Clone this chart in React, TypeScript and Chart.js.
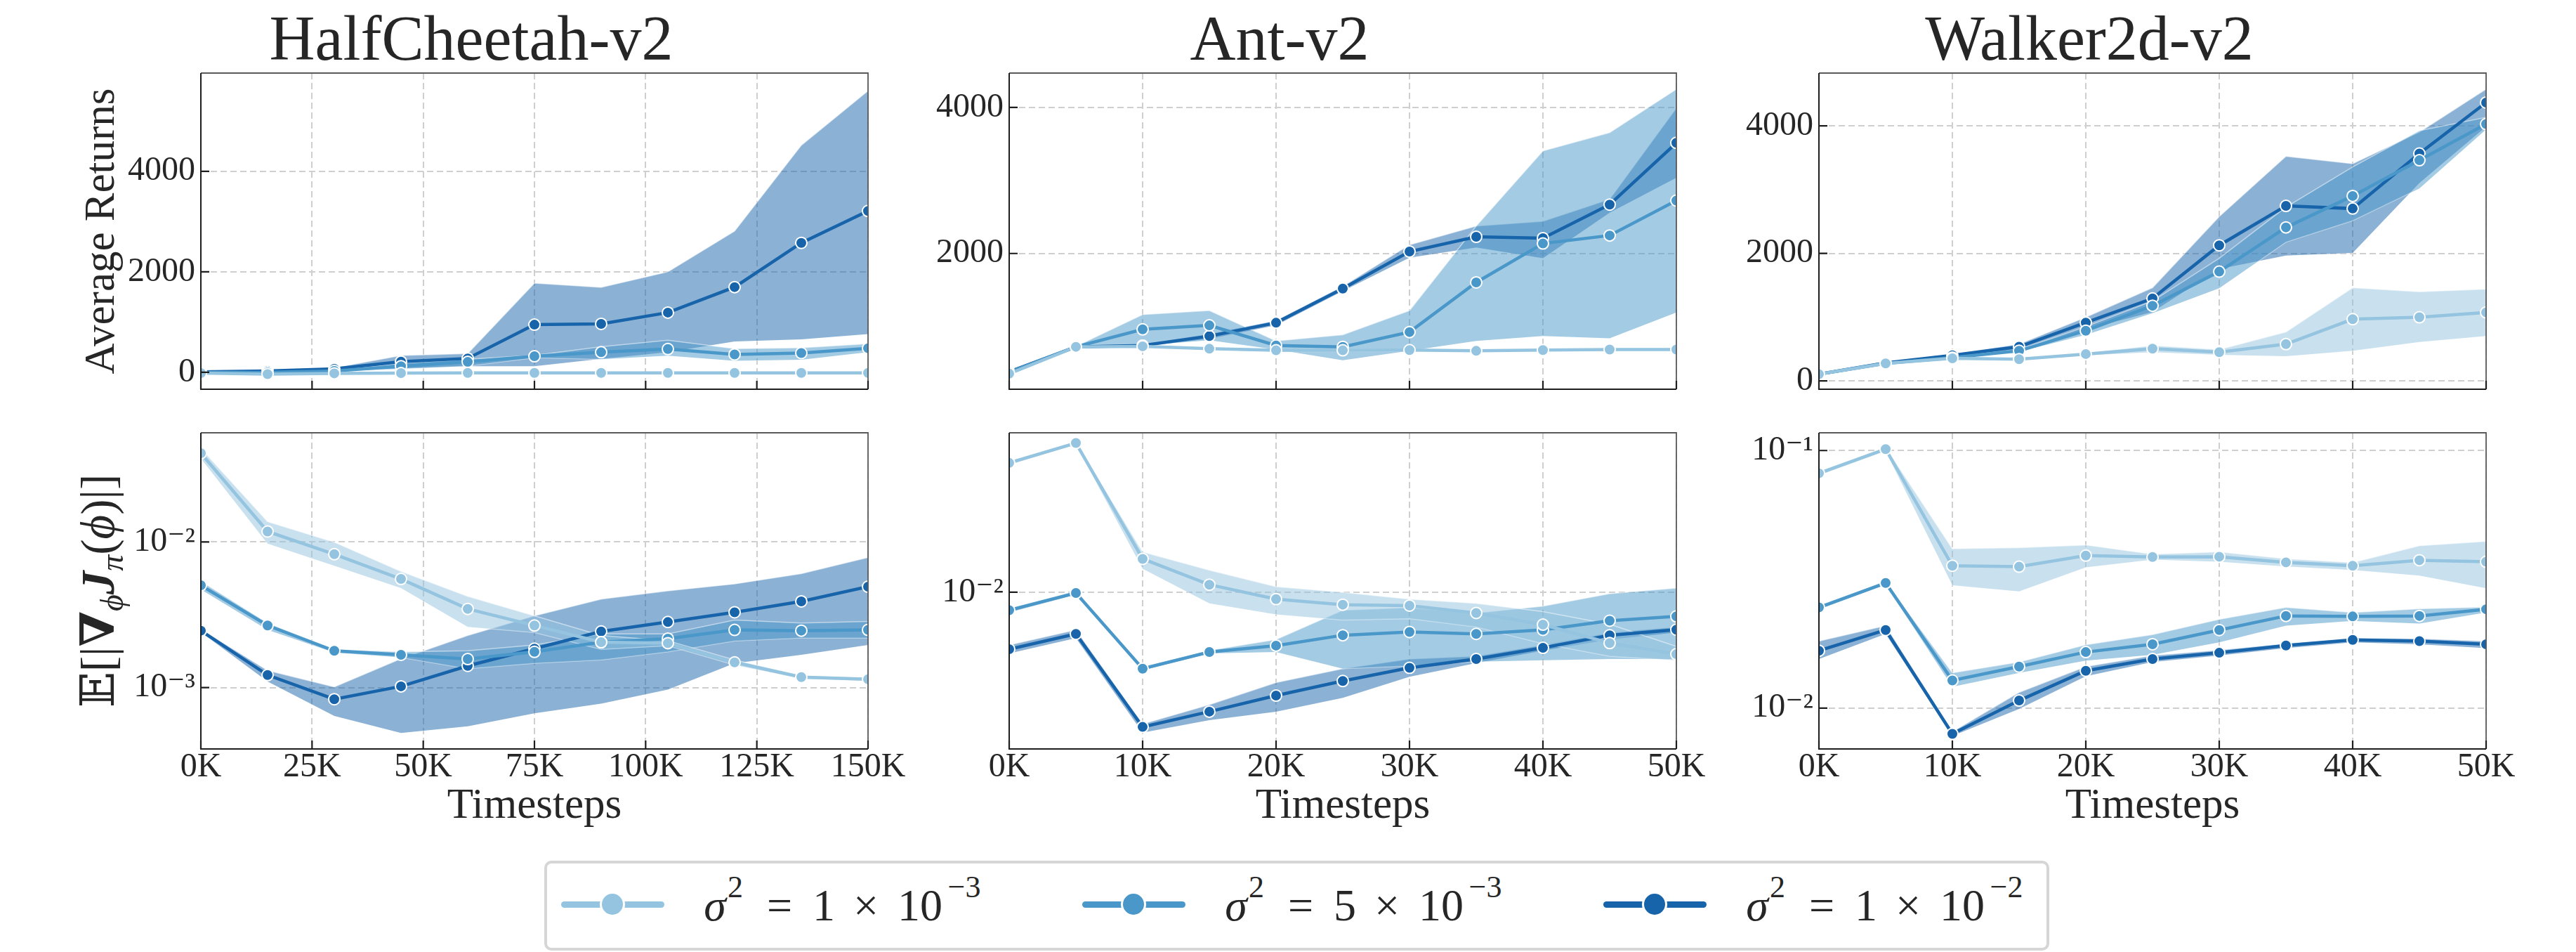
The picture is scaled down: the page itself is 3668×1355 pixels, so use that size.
import React, { useEffect, useRef } from 'react';
import { Chart, registerables } from 'chart.js';

Chart.register(...registerables);

const SERIF = '"Liberation Serif", "DejaVu Serif", serif';
const TEXT = '#262626';
const GRID = '#cfcfcf';
const COLORS = ['#94c4df', '#4a98c9', '#1764ab'];
const BANDS = ['rgba(148,196,223,0.5)', 'rgba(74,152,201,0.5)', 'rgba(23,100,171,0.5)'];
const BAND_EDGE = 'rgba(255,255,255,0.5)';

// ---------------- labels ----------------
const envTitles = ['HalfCheetah-v2', 'Ant-v2', 'Walker2d-v2'];
const yTitleTop = 'Average Returns';
const xTitle = 'Timesteps';
const legendMantissa = ['1', '5', '1'];
const legendExponent = ['\u22123', '\u22123', '\u22122'];

// ---------------- x values / ticks ----------------
const hcSteps = [0, 15000, 30000, 45000, 60000, 75000, 90000, 105000, 120000, 135000, 150000];
const mjSteps = [0, 5000, 10000, 15000, 20000, 25000, 30000, 35000, 40000, 45000, 50000];
const hcXTicks = [0, 25000, 50000, 75000, 100000, 125000, 150000];
const mjXTicks = [0, 10000, 20000, 30000, 40000, 50000];

// ---------------- HalfCheetah: returns ----------------
const hcRetLight = [-15, -35, -20, -15, -10, -10, -10, -10, -10, -10, -10];
const hcRetLightHi = [-5, -25, -10, -5, 0, 0, 0, 0, 0, 0, 0];
const hcRetLightLo = [-25, -45, -30, -25, -20, -20, -20, -20, -20, -20, -20];
const hcRetMed = [0, 0, 27, 123, 208, 320, 400, 464, 357, 384, 480];
const hcRetMedHi = [5, 5, 35, 180, 260, 340, 510, 640, 470, 490, 570];
const hcRetMedLo = [-5, -5, 20, 70, 125, 290, 260, 330, 230, 250, 400];
const hcRetDark = [10, 27, 70, 213, 277, 949, 965, 1189, 1696, 2576, 3211];
const hcRetDarkHi = [15, 35, 90, 336, 373, 1776, 1691, 2000, 2811, 4517, 5600];
const hcRetDarkLo = [5, 15, 50, 80, 123, 123, 267, 400, 613, 656, 763];

// ---------------- HalfCheetah: gradient norm ----------------
const hcGradLight = [0.0407, 0.0118, 0.00824, 0.00557, 0.00347, 0.00267, 0.00205, 0.00202, 0.00149, 0.00118, 0.00114];
const hcGradLightHi = [0.044, 0.0138, 0.00997, 0.00628, 0.00423, 0.00311, 0.00228, 0.0021, 0.00155, 0.00121, 0.00117];
const hcGradLightLo = [0.0375, 0.00974, 0.00686, 0.00482, 0.00261, 0.00239, 0.00183, 0.00194, 0.00143, 0.00115, 0.00111];
const hcGradMed = [0.00504, 0.00267, 0.00179, 0.00168, 0.00157, 0.00176, 0.00205, 0.00217, 0.00249, 0.00246, 0.00249];
const hcGradMedHi = [0.00538, 0.00278, 0.00183, 0.00176, 0.00179, 0.00196, 0.00234, 0.00234, 0.00291, 0.00278, 0.00285];
const hcGradMedLo = [0.00472, 0.00249, 0.00174, 0.00161, 0.00135, 0.00147, 0.00155, 0.00176, 0.00209, 0.00219, 0.00219];
const hcGradDark = [0.00246, 0.00122, 0.000832, 0.00102, 0.00141, 0.00185, 0.00243, 0.00282, 0.00329, 0.00391, 0.00493];
const hcGradDarkHi = [0.00252, 0.00131, 0.00101, 0.00158, 0.00228, 0.00311, 0.00405, 0.00461, 0.00515, 0.00606, 0.00782];
const hcGradDarkLo = [0.0024, 0.0011, 0.000639, 0.000488, 0.000542, 0.000666, 0.000776, 0.000968, 0.00147, 0.00168, 0.00196];

// ---------------- Ant: returns ----------------
const antRetLight = [353, 721, 728, 695, 673, 673, 676, 666, 676, 684, 684];
const antRetLightHi = [365, 730, 745, 712, 690, 688, 690, 680, 690, 698, 698];
const antRetLightLo = [340, 712, 712, 680, 655, 658, 662, 652, 662, 670, 670];
const antRetMed = [371, 721, 960, 1015, 739, 721, 923, 1603, 2136, 2246, 2724];
const antRetMedHi = [380, 728, 1162, 1217, 801, 886, 1217, 2375, 3404, 3654, 4250];
const antRetMedLo = [362, 714, 739, 812, 684, 537, 666, 801, 868, 838, 1191];
const antRetDark = [379, 721, 739, 868, 1051, 1518, 2026, 2228, 2210, 2669, 3515];
const antRetDarkHi = [390, 728, 750, 900, 1080, 1550, 2118, 2375, 2441, 2743, 3993];
const antRetDarkLo = [368, 714, 728, 830, 1015, 1485, 1941, 2081, 1934, 2559, 3037];

// ---------------- Ant: gradient norm ----------------
const antGradLight = [0.0305, 0.0362, 0.01333, 0.01067, 0.00942, 0.00898, 0.00891, 0.00836, 0.00756, 0.00645, 0.00586];
const antGradLightHi = [0.031, 0.0367, 0.01416, 0.0121, 0.01049, 0.01, 0.00942, 0.00909, 0.00846, 0.00759, 0.00627];
const antGradLightLo = [0.03, 0.0357, 0.01225, 0.00909, 0.00826, 0.00787, 0.00796, 0.00741, 0.00642, 0.00576, 0.00556];
const antGradMed = [0.00856, 0.00993, 0.00517, 0.00597, 0.00631, 0.0069, 0.0071, 0.00698, 0.00723, 0.00782, 0.00812];
const antGradMedHi = [0.0087, 0.0101, 0.00525, 0.00605, 0.00665, 0.00856, 0.00876, 0.00836, 0.00887, 0.00988, 0.01036];
const antGradMedLo = [0.0084, 0.0098, 0.0051, 0.0059, 0.00597, 0.00517, 0.0053, 0.00549, 0.00556, 0.00562, 0.00562];
const antGradDark = [0.00612, 0.00698, 0.00313, 0.00357, 0.0041, 0.00465, 0.00521, 0.00562, 0.00619, 0.0069, 0.00724];
const antGradDarkHi = [0.00634, 0.00723, 0.00321, 0.00379, 0.00459, 0.00517, 0.00562, 0.00576, 0.00634, 0.00706, 0.0074];
const antGradDarkLo = [0.0059, 0.00673, 0.00298, 0.00332, 0.00357, 0.00402, 0.00482, 0.00543, 0.00604, 0.00665, 0.00706];

// ---------------- Walker2d: returns ----------------
const walkRetLight = [105, 274, 354, 341, 421, 505, 451, 577, 968, 998, 1074];
const walkRetLightHi = [115, 285, 368, 355, 440, 556, 493, 766, 1461, 1398, 1440];
const walkRetLightLo = [95, 263, 340, 328, 402, 451, 408, 387, 472, 611, 703];
const walkRetMed = [105, 274, 366, 472, 787, 1179, 1714, 2408, 2901, 3461, 4029];
const walkRetMedHi = [115, 285, 380, 490, 851, 1251, 1924, 2724, 3356, 3924, 4134];
const walkRetMedLo = [95, 263, 350, 455, 724, 1061, 1453, 2177, 2514, 3019, 3945];
const walkRetDark = [105, 282, 400, 535, 914, 1293, 2126, 2745, 2703, 3566, 4366];
const walkRetDarkHi = [115, 295, 420, 577, 998, 1461, 2577, 3524, 3406, 3903, 4577];
const walkRetDarkLo = [95, 270, 380, 493, 808, 1082, 1756, 1966, 2008, 3103, 3987];

// ---------------- Walker2d: gradient norm ----------------
const walkGradLight = [0.0816, 0.1013, 0.0357, 0.0354, 0.0391, 0.0386, 0.0387, 0.0368, 0.0357, 0.0375, 0.037];
const walkGradLightHi = [0.083, 0.103, 0.0416, 0.042, 0.043, 0.0396, 0.0404, 0.038, 0.0367, 0.0427, 0.0444];
const walkGradLightLo = [0.0802, 0.0996, 0.03, 0.0284, 0.0352, 0.0377, 0.037, 0.0355, 0.0344, 0.0327, 0.0292];
const walkGradMed = [0.0246, 0.0306, 0.0128, 0.0145, 0.0165, 0.0177, 0.0201, 0.0228, 0.0227, 0.0228, 0.0242];
const walkGradMedHi = [0.025, 0.031, 0.0137, 0.0151, 0.0176, 0.0193, 0.0221, 0.0246, 0.0235, 0.0243, 0.0247];
const walkGradMedLo = [0.0242, 0.0302, 0.0121, 0.0137, 0.0153, 0.0161, 0.018, 0.0209, 0.0218, 0.0213, 0.0235];
const walkGradDark = [0.0167, 0.0201, 0.00794, 0.0107, 0.01396, 0.0155, 0.0164, 0.0175, 0.0184, 0.0182, 0.0177];
const walkGradDarkHi = [0.0182, 0.0209, 0.0081, 0.0115, 0.0145, 0.016, 0.0168, 0.0178, 0.0187, 0.0186, 0.0182];
const walkGradDarkLo = [0.0155, 0.0194, 0.0078, 0.00993, 0.0133, 0.0151, 0.016, 0.0171, 0.018, 0.0177, 0.0171];

// ---------------- axis ranges / ticks ----------------
const hcRetRange = [-336, 5955];
const antRetRange = [140, 4471];
const walkRetRange = [-131, 4829];
const hcGradRange = [0.000379, 0.0562];
const antGradRange = [0.002588, 0.03954];
const walkGradRange = [0.00694, 0.1172];
const hcRetTicks = [0, 2000, 4000];
const antRetTicks = [2000, 4000];
const walkRetTicks = [0, 2000, 4000];
const hcGradTicks = [0.001, 0.01];
const antGradTicks = [0.01];
const walkGradTicks = [0.01, 0.1];

// ---------------- layout ----------------
const PANEL_LEFT = [286, 1437, 2590];
const PANEL_W = 950;
const Y_AXIS_W = 180;
const RIGHT_PAD = 70;

const SUP: Record<string, string> = { '-': '\u207b', '0': '\u2070', '1': '\u00b9', '2': '\u00b2', '3': '\u00b3', '4': '\u2074', '5': '\u2075', '6': '\u2076', '7': '\u2077', '8': '\u2078', '9': '\u2079' };
const powLabel = (v: number) => '10' + String(Math.round(Math.log10(v))).split('').map((c) => SUP[c]).join('');

type Band = { mean: number[]; lo: number[]; hi: number[] };
type Spec = {
  steps: number[]; series: Band[]; log: boolean; range: number[]; yTicks: number[];
  xMax: number; xTicks: number[]; bottomRow: boolean; title?: string; yTitle?: string; gradLabel?: boolean; col: number;
};

const framePlugin = {
  id: 'frame',
  afterDatasetsDraw(chart: any) {
    const { ctx, chartArea } = chart;
    const { left, right, top, bottom } = chartArea;
    ctx.save();
    ctx.strokeStyle = '#5a5a5a';
    ctx.lineWidth = 1.8;
    ctx.beginPath();
    ctx.moveTo(left, top);
    ctx.lineTo(right, top);
    ctx.lineTo(right, bottom);
    ctx.stroke();
    ctx.strokeStyle = '#1e1e1e';
    ctx.lineWidth = 2;
    ctx.beginPath();
    ctx.moveTo(left, top);
    ctx.lineTo(left, bottom);
    ctx.lineTo(right, bottom);
    ctx.stroke();
    const xs = chart.scales.x;
    const ys = chart.scales.y;
    ctx.lineWidth = 2.2;
    ctx.beginPath();
    xs.ticks.forEach((t: any) => {
      const px = xs.getPixelForValue(t.value);
      ctx.moveTo(px, bottom);
      ctx.lineTo(px, bottom - 12);
    });
    ys.ticks.forEach((t: any) => {
      const py = ys.getPixelForValue(t.value);
      ctx.moveTo(left, py);
      ctx.lineTo(left + 12, py);
    });
    ctx.stroke();
    ctx.restore();
  },
};

const gradLabelPlugin = {
  id: 'gradLabel',
  afterDraw(chart: any, _args: any, opts: any) {
    if (!opts || !opts.display) return;
    const { ctx, chartArea } = chart;
    const parts = [
      { t: '\u{1D53C}', f: '67px "DejaVu Serif", "DejaVu Sans", serif', dy: 0 },
      { t: '[|', f: `67px ${SERIF}`, dy: 0 },
      { t: '\u2207', f: `bold 67px "DejaVu Serif", serif`, dy: 0 },
      { t: '\u03d5', f: `italic 46px ${SERIF}`, dy: 13 },
      { t: 'J', f: `bold italic 67px ${SERIF}`, dy: 0 },
      { t: '\u03c0', f: `italic 46px ${SERIF}`, dy: 13 },
      { t: '(', f: `67px ${SERIF}`, dy: 0 },
      { t: '\u03d5', f: `italic 67px ${SERIF}`, dy: 0 },
      { t: ')|]', f: `67px ${SERIF}`, dy: 0 },
    ];
    ctx.save();
    let w = 0;
    parts.forEach((p) => { ctx.font = p.f; w += ctx.measureText(p.t).width; });
    ctx.translate(opts.x, (chartArea.top + chartArea.bottom) / 2);
    ctx.rotate(-Math.PI / 2);
    ctx.fillStyle = TEXT;
    ctx.textBaseline = 'alphabetic';
    ctx.textAlign = 'left';
    let x = -w / 2;
    parts.forEach((p) => {
      ctx.font = p.f;
      ctx.fillText(p.t, x, p.dy);
      x += ctx.measureText(p.t).width;
    });
    ctx.restore();
  },
};

function geometry(spec: Spec) {
  const left = PANEL_LEFT[spec.col] - Y_AXIS_W;
  const width = Y_AXIS_W + PANEL_W + RIGHT_PAD;
  if (!spec.bottomRow) return { left, width, top: 0, height: 594, padTop: 0, xAxisH: 40 };
  return { left, width, top: 560, height: 640, padTop: 56, xAxisH: 134 };
}

function buildConfig(spec: Spec): any {
  const g = geometry(spec);
  const pts = (arr: number[]) => spec.steps.map((x, k) => ({ x, y: arr[k] }));
  const datasets: any[] = [];
  spec.series.forEach((s, i) => {
    datasets.push({
      data: pts(s.hi), borderColor: BAND_EDGE, borderWidth: 1.5, backgroundColor: BANDS[i],
      fill: '+1', pointRadius: 0, order: 4 + i, clip: 0, tension: 0,
    });
    datasets.push({
      data: pts(s.lo), borderColor: BAND_EDGE, borderWidth: 1.5, backgroundColor: 'transparent',
      fill: false, pointRadius: 0, order: 4 + i, clip: 0, tension: 0,
    });
  });
  spec.series.forEach((s, i) => {
    datasets.push({
      data: pts(s.mean), borderColor: COLORS[i], borderWidth: 4.5, backgroundColor: COLORS[i],
      pointRadius: 8, pointBackgroundColor: COLORS[i], pointBorderColor: '#ffffff', pointBorderWidth: 2,
      fill: false, order: 1 + i, clip: 0, tension: 0,
    });
  });

  return {
    type: 'line',
    data: { datasets },
    plugins: [framePlugin, gradLabelPlugin],
    options: {
      responsive: false,
      animation: false,
      devicePixelRatio: 1,
      events: [],
      layout: { padding: { top: g.padTop, left: 0, right: RIGHT_PAD, bottom: 0 } },
      plugins: {
        legend: { display: false },
        tooltip: { enabled: false },
        title: spec.title
          ? {
              display: true, text: spec.title, color: TEXT,
              font: { family: SERIF, size: 90, weight: 'normal', lineHeight: 0.942 },
              padding: { top: 19.2, bottom: 0 },
            }
          : { display: false },
        gradLabel: { display: !!spec.gradLabel, x: 56 },
      },
      scales: {
        x: {
          type: 'linear', min: 0, max: spec.xMax,
          afterBuildTicks: (sc: any) => { sc.ticks = spec.xTicks.map((v) => ({ value: v })); },
          afterFit: (sc: any) => { sc.height = g.xAxisH; },
          ticks: {
            display: spec.bottomRow, autoSkip: false, maxRotation: 0, color: TEXT, padding: 2.5,
            font: { family: SERIF, size: 48, lineHeight: 1 },
            callback: (v: number) => `${Math.round(v / 1000)}K`,
          },
          grid: { color: GRID, lineWidth: 2, drawTicks: false },
          border: { display: false, dash: [9, 5] },
          title: {
            display: spec.bottomRow, text: xTitle, color: TEXT,
            font: { family: SERIF, size: 61, lineHeight: 1.2 },
            padding: { top: 0, bottom: 15 },
          },
        },
        y: {
          type: spec.log ? 'logarithmic' : 'linear',
          min: spec.range[0], max: spec.range[1],
          afterBuildTicks: (sc: any) => { sc.ticks = spec.yTicks.map((v) => ({ value: v })); },
          afterFit: (sc: any) => { sc.width = Y_AXIS_W; },
          ticks: {
            color: TEXT, padding: 8, autoSkip: false,
            font: { family: SERIF, size: 48, lineHeight: 1.2 },
            callback: (v: number) => (spec.log ? powLabel(v) : String(v)),
          },
          grid: { color: GRID, lineWidth: 2, drawTicks: false },
          border: { display: false, dash: [9, 5] },
          title: spec.yTitle
            ? {
                display: true, text: spec.yTitle, color: TEXT,
                font: { family: SERIF, size: 61, lineHeight: 1.2 },
                padding: { top: 3, bottom: 0 },
              }
            : { display: false },
        },
      },
    },
  };
}

const specs: Spec[] = [
  {
    col: 0, bottomRow: false, title: envTitles[0], yTitle: yTitleTop, steps: hcSteps, log: false,
    range: hcRetRange, yTicks: hcRetTicks, xMax: 150000, xTicks: hcXTicks,
    series: [
      { mean: hcRetLight, lo: hcRetLightLo, hi: hcRetLightHi },
      { mean: hcRetMed, lo: hcRetMedLo, hi: hcRetMedHi },
      { mean: hcRetDark, lo: hcRetDarkLo, hi: hcRetDarkHi },
    ],
  },
  {
    col: 1, bottomRow: false, title: envTitles[1], steps: mjSteps, log: false,
    range: antRetRange, yTicks: antRetTicks, xMax: 50000, xTicks: mjXTicks,
    series: [
      { mean: antRetLight, lo: antRetLightLo, hi: antRetLightHi },
      { mean: antRetMed, lo: antRetMedLo, hi: antRetMedHi },
      { mean: antRetDark, lo: antRetDarkLo, hi: antRetDarkHi },
    ],
  },
  {
    col: 2, bottomRow: false, title: envTitles[2], steps: mjSteps, log: false,
    range: walkRetRange, yTicks: walkRetTicks, xMax: 50000, xTicks: mjXTicks,
    series: [
      { mean: walkRetLight, lo: walkRetLightLo, hi: walkRetLightHi },
      { mean: walkRetMed, lo: walkRetMedLo, hi: walkRetMedHi },
      { mean: walkRetDark, lo: walkRetDarkLo, hi: walkRetDarkHi },
    ],
  },
  {
    col: 0, bottomRow: true, gradLabel: true, steps: hcSteps, log: true,
    range: hcGradRange, yTicks: hcGradTicks, xMax: 150000, xTicks: hcXTicks,
    series: [
      { mean: hcGradLight, lo: hcGradLightLo, hi: hcGradLightHi },
      { mean: hcGradMed, lo: hcGradMedLo, hi: hcGradMedHi },
      { mean: hcGradDark, lo: hcGradDarkLo, hi: hcGradDarkHi },
    ],
  },
  {
    col: 1, bottomRow: true, steps: mjSteps, log: true,
    range: antGradRange, yTicks: antGradTicks, xMax: 50000, xTicks: mjXTicks,
    series: [
      { mean: antGradLight, lo: antGradLightLo, hi: antGradLightHi },
      { mean: antGradMed, lo: antGradMedLo, hi: antGradMedHi },
      { mean: antGradDark, lo: antGradDarkLo, hi: antGradDarkHi },
    ],
  },
  {
    col: 2, bottomRow: true, steps: mjSteps, log: true,
    range: walkGradRange, yTicks: walkGradTicks, xMax: 50000, xTicks: mjXTicks,
    series: [
      { mean: walkGradLight, lo: walkGradLightLo, hi: walkGradLightHi },
      { mean: walkGradMed, lo: walkGradMedLo, hi: walkGradMedHi },
      { mean: walkGradDark, lo: walkGradDarkLo, hi: walkGradDarkHi },
    ],
  },
];

function Panel({ spec }: { spec: Spec }) {
  const ref = useRef<HTMLCanvasElement>(null);
  const g = geometry(spec);
  useEffect(() => {
    const chart = new Chart(ref.current as HTMLCanvasElement, buildConfig(spec));
    return () => chart.destroy();
  }, [spec]);
  return (
    <canvas
      ref={ref}
      width={g.width}
      height={g.height}
      style={{ position: 'absolute', left: g.left, top: g.top, width: g.width, height: g.height }}
    />
  );
}

function Piece({ s, cx, baseline, size, italic }: { s: string; cx: number; baseline: number; size: number; italic?: boolean }) {
  return (
    <span
      style={{
        position: 'absolute', left: cx - 100, width: 200, textAlign: 'center',
        top: baseline - 0.3375 * size, height: 0, lineHeight: 0, fontSize: size,
        fontFamily: SERIF, fontStyle: italic ? 'italic' : 'normal', color: TEXT, whiteSpace: 'nowrap',
      }}
    >
      {s}
    </span>
  );
}

function Legend() {
  const STEP = 742;
  return (
    <>
      <div
        style={{
          position: 'absolute', left: 775, top: 1225, width: 2143, height: 128, boxSizing: 'border-box',
          border: '4px solid #d6d6d6', borderRadius: 10, background: '#ffffff',
        }}
      />
      {COLORS.map((c, i) => {
        const hx = 799 + STEP * i;
        const x0 = 995 + STEP * i;
        return (
          <React.Fragment key={i}>
            <div style={{ position: 'absolute', left: hx, top: 1282.5, width: 147, height: 9, borderRadius: 4.5, background: c }} />
            <div
              style={{
                position: 'absolute', left: hx + 73 - 18, top: 1287 - 18, width: 36, height: 36, boxSizing: 'border-box',
                borderRadius: '50%', background: c, border: '3px solid #ffffff',
              }}
            />
            <Piece s={'\u03c3'} cx={x0 + 23} baseline={1311} size={64} italic />
            <Piece s="2" cx={x0 + 52} baseline={1278} size={44} />
            <Piece s="=" cx={x0 + 115} baseline={1311} size={64} />
            <Piece s={legendMantissa[i]} cx={x0 + 178} baseline={1311} size={64} />
            <Piece s={'\u00d7'} cx={x0 + 238} baseline={1311} size={64} />
            <Piece s="10" cx={x0 + 315} baseline={1311} size={64} />
            <Piece s={legendExponent[i]} cx={x0 + 378} baseline={1278} size={44} />
          </React.Fragment>
        );
      })}
    </>
  );
}

export default function App() {
  return (
    <div style={{ position: 'absolute', left: 0, top: 0, width: 3668, height: 1355, background: '#ffffff', overflow: 'hidden' }}>
      {specs.map((s, i) => (
        <Panel key={i} spec={s} />
      ))}
      <Legend />
    </div>
  );
}
